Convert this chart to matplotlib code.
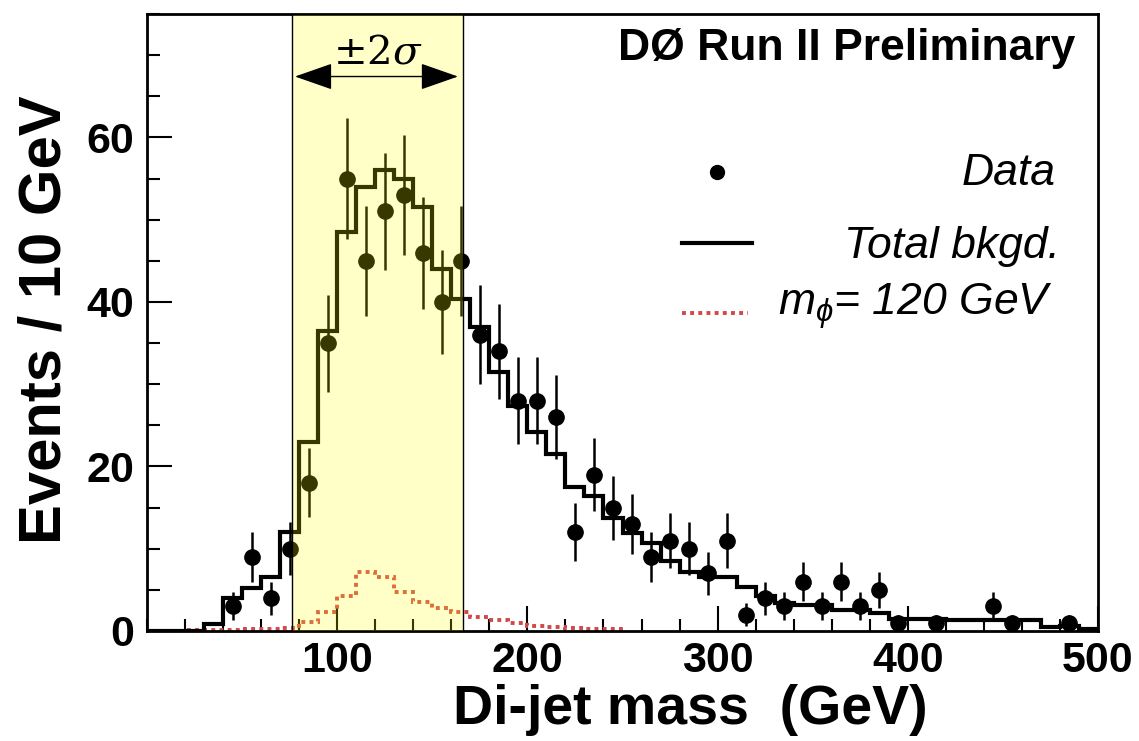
import numpy as np
import matplotlib
matplotlib.use('Agg')
import matplotlib.pyplot as plt
from matplotlib.ticker import MultipleLocator

plt.rcParams['font.family'] = ['Liberation Sans', 'DejaVu Sans']
plt.rcParams['mathtext.fontset'] = 'custom'
plt.rcParams['mathtext.it'] = 'Liberation Sans:italic'
plt.rcParams['mathtext.rm'] = 'Liberation Sans'

# histogram binning (10 GeV bins)
bkg_edges = np.arange(0, 510, 10)
bkg_counts = [0, 0, 0, 0.9, 4.0, 5.2, 6.6, 12.0, 23.0, 36.5,
              48.5, 54.0, 56.0, 55.0, 51.5, 44.0, 40.3, 37.0, 31.5, 27.4,
              24.2, 21.5, 17.5, 16.4, 13.7, 11.9, 10.7, 8.5, 7.2, 6.6,
              6.6, 5.4, 4.2, 3.4, 3.2, 3.2, 2.5, 2.5, 2.2, 1.5,
              1.5, 1.5, 1.3, 1.3, 1.3, 1.3, 1.3, 0.5, 0.6, 0.3]

sig_edges = np.arange(0, 260, 10)
sig_counts = [0.05, 0.05, 0.1, 0.1, 0.15, 0.2, 0.25, 0.4, 1.1, 2.3,
              4.3, 7.2, 6.6, 4.7, 3.5, 2.8, 2.3, 1.7, 1.3, 0.95,
              0.65, 0.5, 0.4, 0.3, 0.25]

data_mass = [45, 55, 65, 75, 85, 95, 105, 115, 125, 135,
             145, 155, 165, 175, 185, 195, 205, 215, 225, 235,
             245, 255, 265, 275, 285, 295, 305, 315, 325, 335,
             345, 355, 365, 375, 385, 395, 415, 445, 455, 485]
data_counts = [3, 9, 4, 10, 18, 35, 55, 45, 51, 53,
               46, 40, 45, 36, 34, 28, 28, 26, 12, 19,
               15, 13, 9, 11, 10, 7, 11, 2, 4, 3,
               6, 3, 6, 3, 5, 1, 1, 3, 1, 1]
data_err = [1.7, 3.0, 2.0, 3.2, 4.2, 5.9, 7.4, 6.7, 7.1, 7.3,
            6.8, 6.3, 6.7, 6.0, 5.8, 5.3, 5.3, 5.1, 3.5, 4.4,
            3.9, 3.6, 3.0, 3.3, 3.2, 2.6, 3.3, 1.4, 2.0, 1.7,
            2.4, 1.7, 2.4, 1.7, 2.2, 1.0, 1.0, 1.7, 1.0, 1.0]

band_lo, band_hi = 76.3, 166.0

W, H = 1139, 741
fig = plt.figure(figsize=(W / 100, H / 100), dpi=100)
ax = fig.add_axes([147 / W, 1 - 631 / H, (1098 - 147) / W, (631 - 14) / H])

ax.stairs(bkg_counts, bkg_edges, color='black', lw=3, zorder=3)
ax.stairs(sig_counts, sig_edges, baseline=None, color='#d04848', lw=2.8,
          ls=(0, (1, 1.1)), zorder=2)
ax.errorbar(data_mass, data_counts, yerr=data_err, fmt='o', color='black',
            ms=11, elinewidth=1.8, capsize=0, zorder=4)

# +-2 sigma window (drawn over the histograms, like the original)
ax.axvspan(band_lo, band_hi, facecolor=(1, 1, 0, 0.22), edgecolor='black',
           lw=1, zorder=5)
ax.annotate('', xy=(band_hi - 2.5, 67.4), xytext=(band_lo + 1.5, 67.4),
            arrowprops=dict(arrowstyle='<|-|>,head_length=1.2,head_width=0.42',
                            mutation_scale=20, lw=1, color='black',
                            shrinkA=0, shrinkB=0), zorder=6)
ax.text((band_lo + band_hi) / 2, 70.3, r'$\pm 2\sigma$', fontsize=29,
        math_fontfamily='dejavuserif', ha='center', va='center', zorder=6)

ax.set_xlim(0, 500)
ax.set_ylim(0, 75)
ax.set_xticks([100, 200, 300, 400, 500])
ax.set_yticks([0, 20, 40, 60])
ax.xaxis.set_minor_locator(MultipleLocator(20))
ax.yaxis.set_minor_locator(MultipleLocator(5))
ax.tick_params(which='both', direction='in', top=False, right=False, width=1.5)
ax.tick_params(which='major', length=18, labelsize=31, pad=9)
ax.tick_params(axis='x', which='major', pad=7)
ax.tick_params(which='minor', length=9)
for lbl in ax.get_xticklabels() + ax.get_yticklabels():
    lbl.set_fontweight('bold')
for sp in ax.spines.values():
    sp.set_linewidth(2)

fig.text(45 / W, 1 - 320 / H, 'Events / 10 GeV', rotation=90, fontsize=43,
         fontweight='bold', ha='center', va='center')
fig.text(690 / W, 1 - 724 / H, 'Di-jet mass  (GeV)', fontsize=40,
         fontweight='bold', ha='center', va='baseline')

# legend, drawn by hand
ax.text(0.976, 0.925, 'DØ Run II Preliminary', transform=ax.transAxes,
        fontsize=32, fontweight='bold', ha='right', va='baseline')
ax.plot([0.5994], [0.7439], 'o', color='black', ms=10, transform=ax.transAxes)
ax.text(0.955, 0.7228, 'Data', transform=ax.transAxes, fontsize=32,
        style='italic', ha='right', va='baseline')
ax.plot([0.5626, 0.636], [0.629, 0.629], color='black', lw=3,
        transform=ax.transAxes)
ax.text(0.960, 0.6045, 'Total bkgd.', transform=ax.transAxes, fontsize=32,
        style='italic', ha='right', va='baseline')
ax.plot([0.5626, 0.632], [0.5154, 0.5154], color='#d04848', lw=2.8,
        ls=(0, (1, 1.1)), transform=ax.transAxes)
ax.text(0.9527, 0.512, r'$m_{\phi}$= 120 GeV', transform=ax.transAxes,
        fontsize=32, style='italic', ha='right', va='baseline')

fig.savefig('out.png', dpi=100)
